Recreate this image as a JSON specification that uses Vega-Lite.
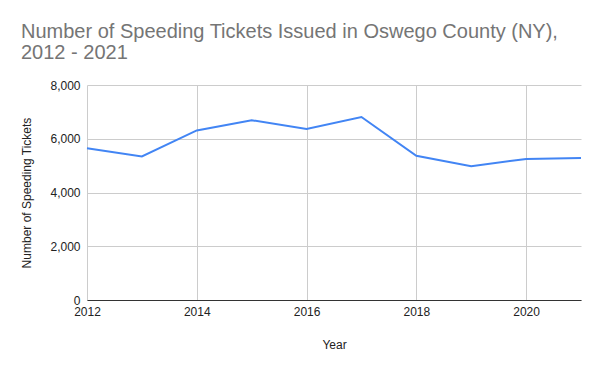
{
  "$schema": "https://vega.github.io/schema/vega-lite/v6.json",
  "autosize": {"type": "none"},
  "padding": {"left": 87, "top": 85, "right": 19, "bottom": 71},
  "width": 494,
  "height": 215,
  "background": "white",
  "config": {
    "font": "Liberation Sans",
    "view": {"stroke": null},
    "axis": {
      "labelFont": "Liberation Sans",
      "titleFont": "Liberation Sans",
      "labelFontSize": 12,
      "titleFontSize": 12,
      "labelColor": "#222222",
      "titleColor": "#222222",
      "titleFontWeight": "normal",
      "gridColor": "#cccccc",
      "gridOpacity": 1,
      "ticks": false
    }
  },
  "title": {
    "text": ["Number of Speeding Tickets Issued in Oswego County (NY),", "2012 - 2021"],
    "anchor": "start",
    "frame": "group",
    "font": "Liberation Sans",
    "fontSize": 20,
    "fontWeight": "normal",
    "color": "#757575",
    "lineHeight": 21,
    "dx": -66,
    "offset": 16
  },
  "data": {
    "values": [
      {"Year": 2012, "Tickets": 5650},
      {"Year": 2013, "Tickets": 5340},
      {"Year": 2014, "Tickets": 6310},
      {"Year": 2015, "Tickets": 6690},
      {"Year": 2016, "Tickets": 6360},
      {"Year": 2017, "Tickets": 6810},
      {"Year": 2018, "Tickets": 5365},
      {"Year": 2019, "Tickets": 4980},
      {"Year": 2020, "Tickets": 5250},
      {"Year": 2021, "Tickets": 5280}
    ]
  },
  "mark": {"type": "line", "color": "#4285F4", "strokeWidth": 2},
  "encoding": {
    "x": {
      "field": "Year",
      "type": "quantitative",
      "scale": {"domain": [2012, 2021], "nice": false, "zero": false},
      "axis": {
        "title": "Year",
        "values": [2012, 2014, 2016, 2018, 2020],
        "format": "d",
        "labelPadding": 6,
        "titlePadding": 22,
        "domainColor": "#333333",
        "domainWidth": 1,
        "labelFlush": false
      }
    },
    "y": {
      "field": "Tickets",
      "type": "quantitative",
      "scale": {"domain": [0, 8000], "nice": false},
      "axis": {
        "title": "Number of Speeding Tickets",
        "values": [0, 2000, 4000, 6000, 8000],
        "format": ",d",
        "labelPadding": 7,
        "titlePadding": 16,
        "domain": false
      }
    }
  }
}
